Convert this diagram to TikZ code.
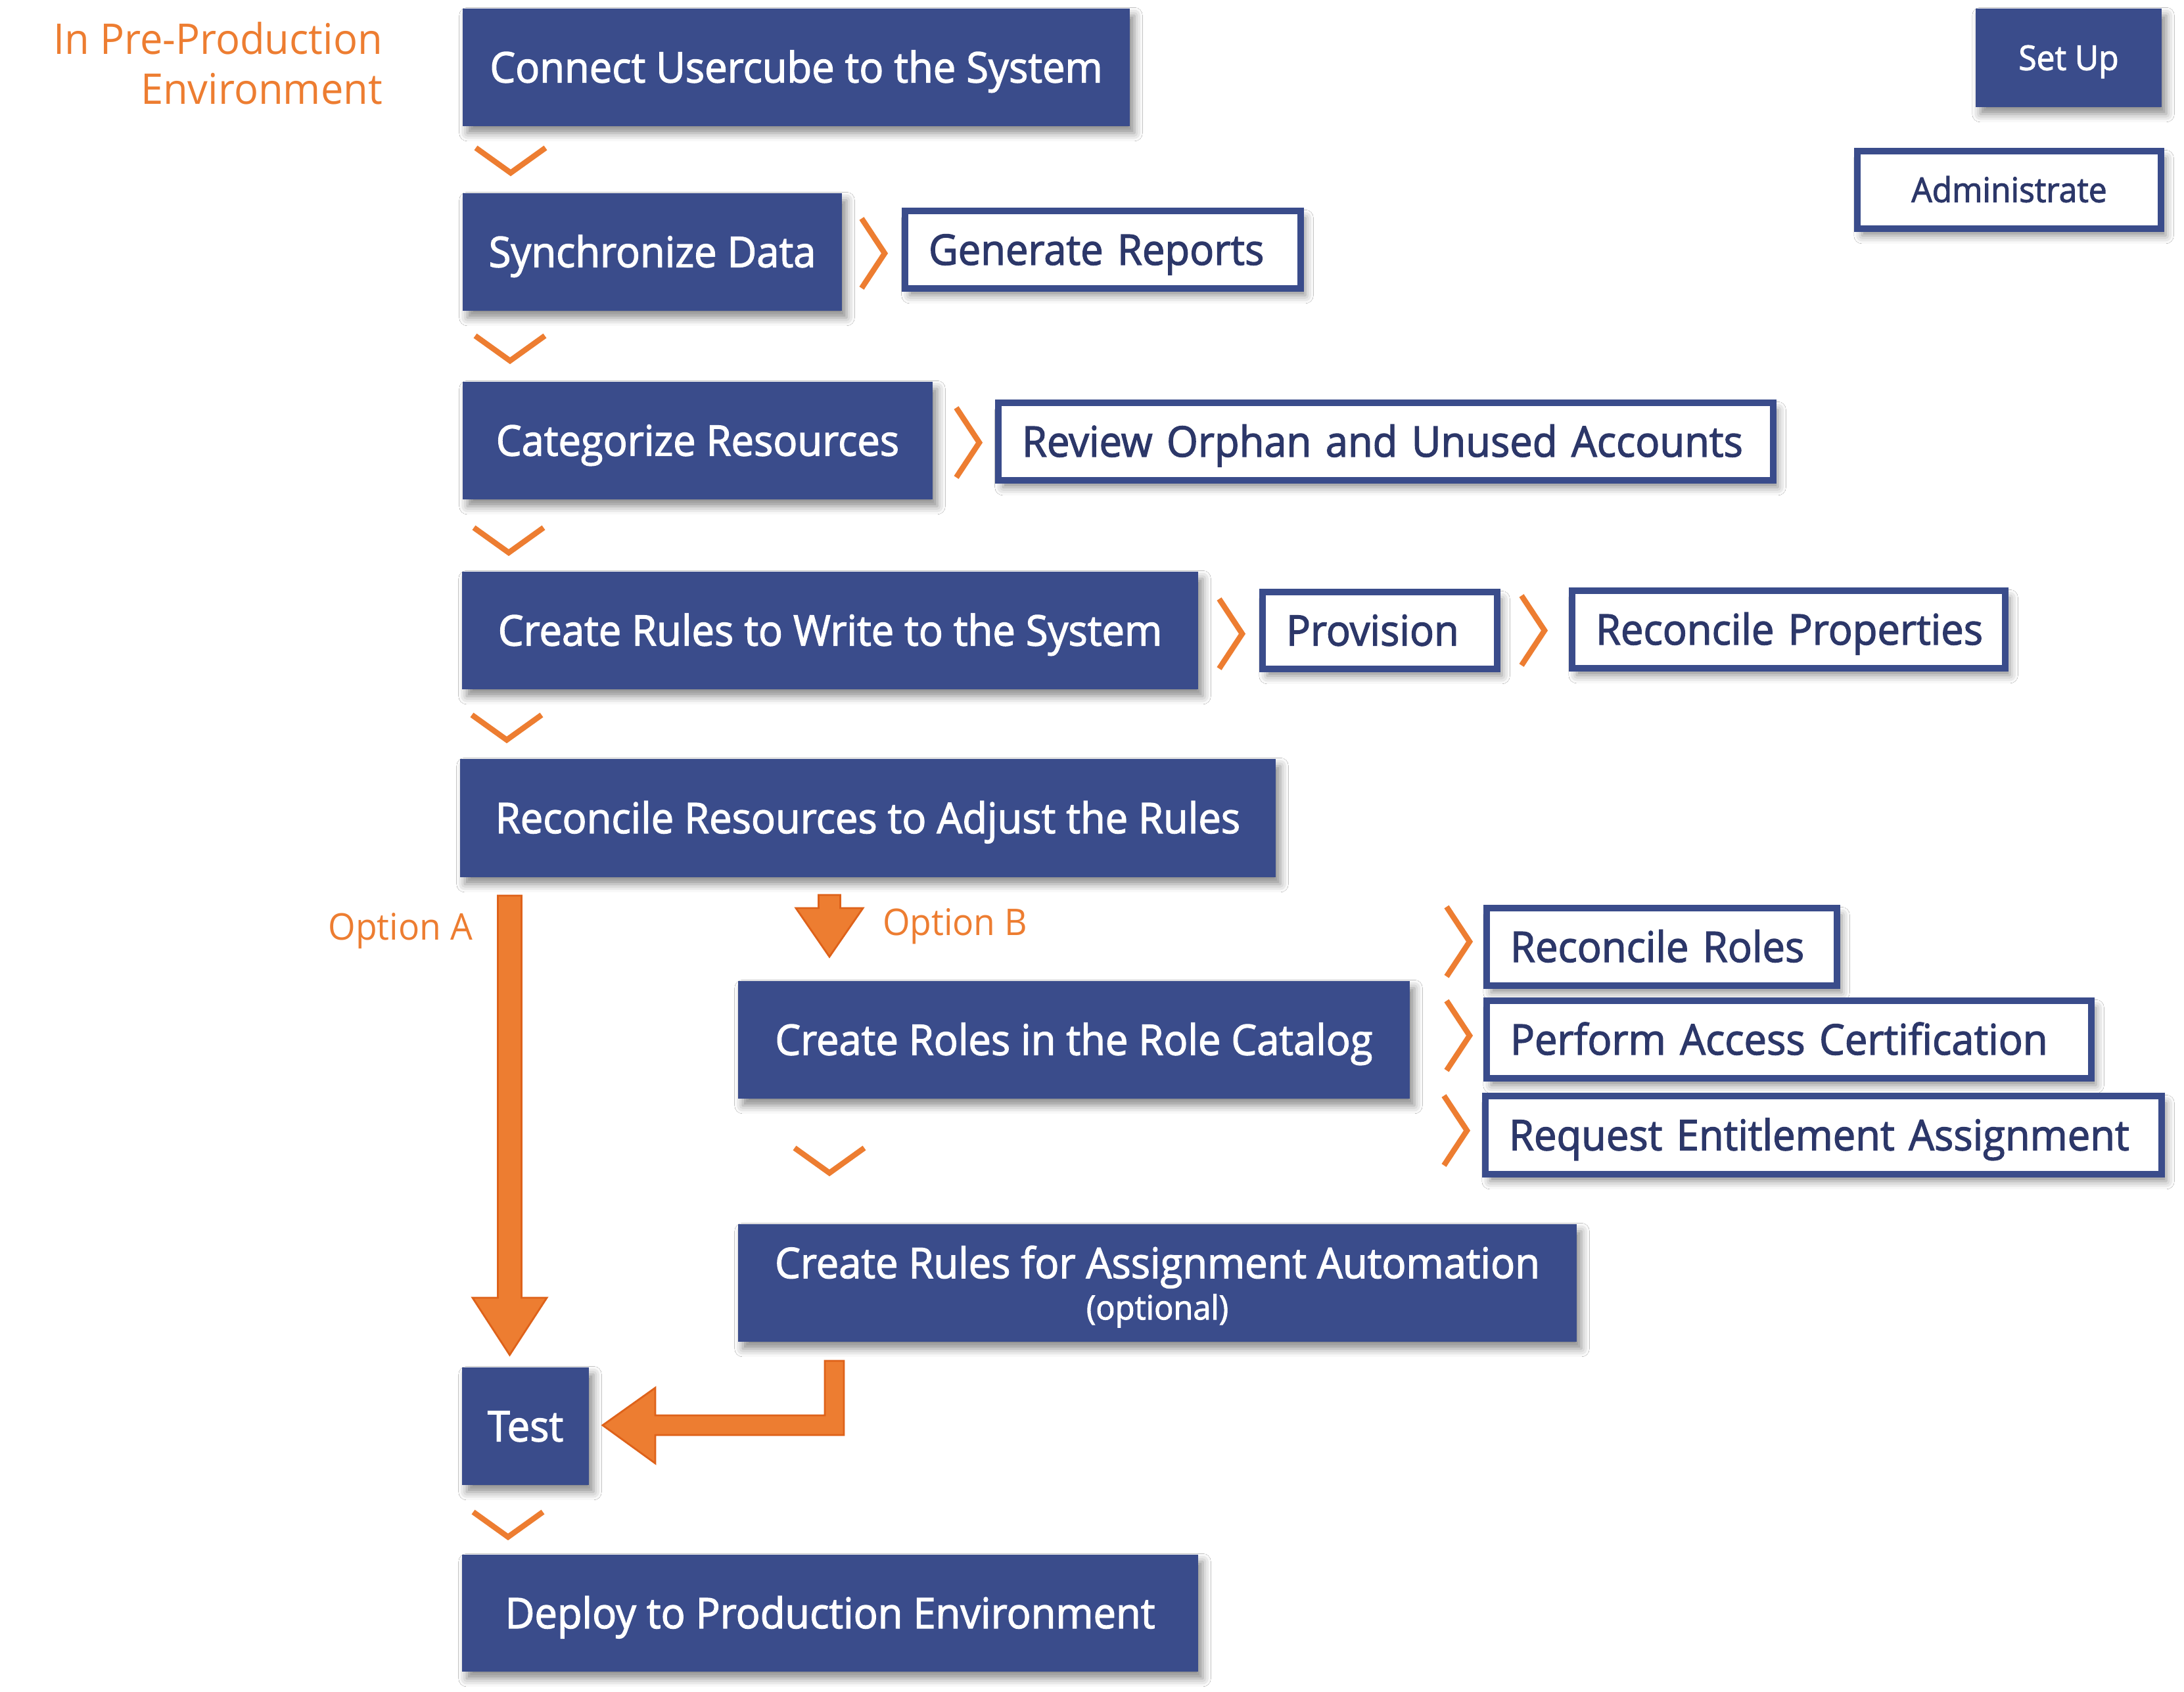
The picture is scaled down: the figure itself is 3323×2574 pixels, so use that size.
\documentclass[tikz,border=0pt]{standalone}
\usepackage{fontspec}
\setmainfont{Open Sans}
\newfontfamily\boxfont{Open Sans}[FakeBold=2, FakeStretch=0.955]
\newfontfamily\labfont{Open Sans}[FakeStretch=0.955]
\usetikzlibrary{calc,shadows.blur}
\definecolor{boxblue}{RGB}{58,76,139}
\definecolor{txtnavy}{RGB}{44,55,105}
\definecolor{orng}{RGB}{237,125,49}
\definecolor{orngdark}{RGB}{222,98,26}
\newcommand\mainfnt{\boxfont\fontsize{18.3pt}{22pt}\selectfont}
\newcommand\smallfnt{\boxfont\fontsize{14.8pt}{17pt}\selectfont}
\newcommand\optfnt{\boxfont\fontsize{14.5pt}{16pt}\selectfont}
\newcommand\envfnt{\labfont\fontsize{18.3pt}{22pt}\selectfont}
\newcommand\optlabfnt{\labfont\fontsize{15.9pt}{19pt}\selectfont}
\tikzset{
  every node/.style={inner sep=0pt, outer sep=0pt},
  softshadow/.style={blur shadow={shadow xshift=2pt, shadow yshift=-3pt, shadow blur radius=3.5pt, shadow opacity=45}},
  solidbox/.style={fill=boxblue, draw=none, text=white, align=center, font=\mainfnt,
    text height=13.07pt, text depth=0pt, softshadow},
  linebox/.style={fill=white, draw=boxblue, line width=2.845pt, text=txtnavy, align=left,
    font=\mainfnt, text height=13.07pt, text depth=0pt, inner xsep=10.24pt, softshadow},
  chev/.style={draw=orng, line width=2.4pt, line join=miter, miter limit=10},
  fatarrow/.style={fill=orng, draw=orngdark, line width=0.8pt, line join=miter},
  orangelab/.style={text=orng, font=\envfnt},
  optlab/.style={text=orng, font=\optlabfnt},
}
\newcommand\solidnode[7][]{%
  \pgfmathsetlengthmacro\bw{(#5-#3)*0.01cm}%
  \pgfmathsetlengthmacro\bh{(#6-#4)*0.01cm}%
  \node[solidbox, minimum width=\bw, minimum height=\bh, #1] (#2) at ({(#3+#5)/2},{(#4+#6)/2}) {#7};}
\newcommand\outnode[7][]{%
  \pgfmathsetlengthmacro\bw{(#5-#3-82)*0.01cm}%
  \pgfmathsetlengthmacro\bh{(#6-#4-10)*0.01cm}%
  \node[linebox, text width=\bw, minimum height=\bh, #1] (#2) at ({(#3+#5)/2},{(#4+#6)/2}) {\mbox{#7}};}
\newcommand\chevdown[1]{\draw[chev] ($#1+(-53,-19)$) -- ($#1+(0,19)$) -- ($#1+(53,-19)$);}
\newcommand\chevright[1]{\draw[chev] ($#1+(-19,-53)$) -- ($#1+(16,0)$) -- ($#1+(-19,53)$);}
\begin{document}
\begin{tikzpicture}[x=0.01cm,y=-0.01cm]
\useasboundingbox[fill=white] (0,0) rectangle (3323,2574);

% labels
\node[orangelab, anchor=base east] (env1) at (582,82) {In Pre-Production};
\node[orangelab, anchor=base east] (env2) at (582,158) {Environment};
\node[optlab, anchor=base east] (optA) at (719,1430) {Option A};
\node[optlab, anchor=base west] (optB) at (1343,1423) {Option B};

% filled steps
\solidnode{connect}{704}{13}{1719}{192}{Connect Usercube to the System}
\solidnode{sync}{704}{294}{1281}{473}{Synchronize Data}
\solidnode{categ}{704}{581}{1419}{760}{Categorize Resources}
\solidnode{crw}{703}{870}{1823}{1049}{Create Rules to Write to the System}
\solidnode{rec}{700}{1155}{1941}{1335}{Reconcile Resources to Adjust the Rules}
\solidnode{roles}{1123}{1493}{2145}{1672}{Create Roles in the Role Catalog}
\solidnode[text height=31.6pt, text depth=0pt]{rulesA}{1123}{1863}{2399}{2042}{Create Rules for Assignment Automation\\[-4.1pt]{\optfnt (optional)}}
\solidnode{test}{703}{2081}{896}{2260}{Test}
\solidnode{deploy}{703}{2366}{1823}{2544}{Deploy to Production Environment}
\solidnode[font=\smallfnt, text height=10.55pt]{setup}{3006}{13}{3289}{163}{Set Up}

% outlined steps
\outnode{gen}{1372}{316}{1984}{444}{Generate Reports}
\outnode{review}{1514}{608}{2703}{736}{Review Orphan and Unused Accounts}
\outnode{prov}{1916}{896}{2283}{1023}{Provision}
\outnode{recprop}{2387}{894}{3056}{1022}{Reconcile Properties}
\outnode[align=center, font=\smallfnt, text height=10.55pt]{admin}{2821}{225}{3293}{353}{Administrate}
\outnode{rroles}{2257}{1377}{2800}{1505}{Reconcile Roles}
\outnode{perf}{2257}{1518}{3187}{1646}{Perform Access Certification}
\outnode{req}{2255}{1663}{3294}{1792}{Request Entitlement Assignment}

% down chevrons
\chevdown{(connect.south west)+(73,52)}
\chevdown{(sync.south west)+(72,57)}
\chevdown{(categ.south west)+(70,62)}
\chevdown{(crw.south west)+(68,58)}
\chevdown{(roles.south west)+(139,94)}
\chevdown{(test.south west)+(70,60)}

% right chevrons
\chevright{(sync.east)+(49,2)}
\chevright{(categ.east)+(55,3)}
\chevright{(crw.east)+(51,5)}
\chevright{(prov.east)+(56,0)}
\chevright{(rroles.west)+(-42,-8)}
\chevright{(perf.west)+(-42,-6)}
\chevright{(req.west)+(-44,-7)}

% option A arrow: rec -> test
\coordinate (aTip) at ($(test.north west)+(72.5,-19)$);
\begin{scope}[shift={(aTip)}]
\draw[fatarrow] (-18,-699) -- (18,-699) -- (18,-87) -- (56.5,-87) -- (0,0) -- (-56.5,-87) -- (-18,-87) -- cycle;
\end{scope}

% option B arrow: rec -> roles
\coordinate (bTip) at ($(roles.north west)+(139,-37)$);
\begin{scope}[shift={(bTip)}]
\draw[fatarrow] (-16.5,-94) -- (16.5,-94) -- (16.5,-74) -- (51,-74) -- (0,0) -- (-51,-74) -- (-16.5,-74) -- cycle;
\end{scope}

% return arrow: rulesA -> test
\coordinate (cTip) at ($(test.east)+(21,-1.5)$);
\begin{scope}[shift={(cTip)}]
\draw[fatarrow] (338,-98) -- (367,-98) -- (367,15) -- (80,15) -- (80,58) -- (0,0) -- (80,-57) -- (80,-15) -- (338,-15) -- cycle;
\end{scope}
\end{tikzpicture}
\end{document}
